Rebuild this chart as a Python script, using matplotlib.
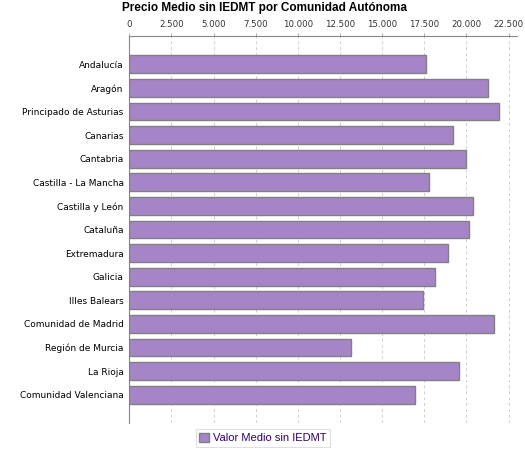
import matplotlib
matplotlib.use("Agg")
import matplotlib.pyplot as plt
import matplotlib.ticker as ticker
from matplotlib.patches import Patch

regiones = ["Andalucía", "Aragón", "Principado de Asturias", "Canarias", "Cantabria",
            "Castilla - La Mancha", "Castilla y León", "Cataluña", "Extremadura", "Galicia",
            "Illes Balears", "Comunidad de Madrid", "Región de Murcia", "La Rioja",
            "Comunidad Valenciana"]
valor_medio = [17600, 21280, 21935, 19200, 19975, 17780, 20390, 20155, 18900, 18135,
               17420, 21615, 13165, 19560, 16950]

bar_color = "#a585c8"
edge_color = "#808080"

fig = plt.figure(figsize=(5.25, 4.5), dpi=100)
ax = fig.add_axes([129.3 / 525, 27 / 450, (517 - 129.3) / 525, (423 - 36) / 450])

pos = list(range(len(regiones)))
ax.barh(pos, valor_medio, height=0.76, color=bar_color, edgecolor=edge_color,
        linewidth=1.0, zorder=3)

ax.set_ylim(len(regiones) - 1 + 1.2, -1.2)
ax.set_xlim(0, 23000)
ax.set_yticks(pos)
ax.set_yticklabels(regiones, fontsize=6.5, family="DejaVu Sans", color="#000000")

ax.xaxis.tick_top()
ax.xaxis.set_major_locator(ticker.MultipleLocator(2500))
ax.xaxis.set_major_formatter(ticker.FuncFormatter(lambda v, p: f"{int(v):,}".replace(",", ".")))
for lbl in ax.get_xticklabels():
    lbl.set_fontsize(6.2)
    lbl.set_color("#333333")
ax.tick_params(axis="x", length=2, width=0.6, color="#999999", pad=3)
ax.tick_params(axis="y", length=0, pad=4)

ax.grid(axis="x", linestyle=(0, (3, 3)), color="#d0d0d0", linewidth=0.7, zorder=0)
ax.spines["right"].set_visible(False)
ax.spines["bottom"].set_visible(False)
ax.spines["left"].set_color("#888888")
ax.spines["top"].set_color("#888888")
ax.spines["left"].set_linewidth(0.8)
ax.spines["top"].set_linewidth(0.8)

fig.suptitle("Precio Medio sin IEDMT por Comunidad Autónoma", x=0.503, y=0.995,
             fontsize=8.5, fontweight="bold", family="Liberation Sans")

leg = fig.legend(handles=[Patch(facecolor=bar_color, edgecolor=edge_color,
                                label="Valor Medio sin IEDMT")],
                 loc="center", bbox_to_anchor=(263 / 525, 1 - 438 / 450),
                 prop={"family": "Liberation Sans", "size": 8},
                 frameon=True, fancybox=False, handlelength=0.9, handleheight=0.9,
                 handletextpad=0.4, borderpad=0.3, borderaxespad=0)
leg.get_frame().set_edgecolor("#d8d8d8")
leg.get_frame().set_linewidth(0.8)
for t in leg.get_texts():
    t.set_color("#330066")

fig.savefig("out.png", dpi=100)
